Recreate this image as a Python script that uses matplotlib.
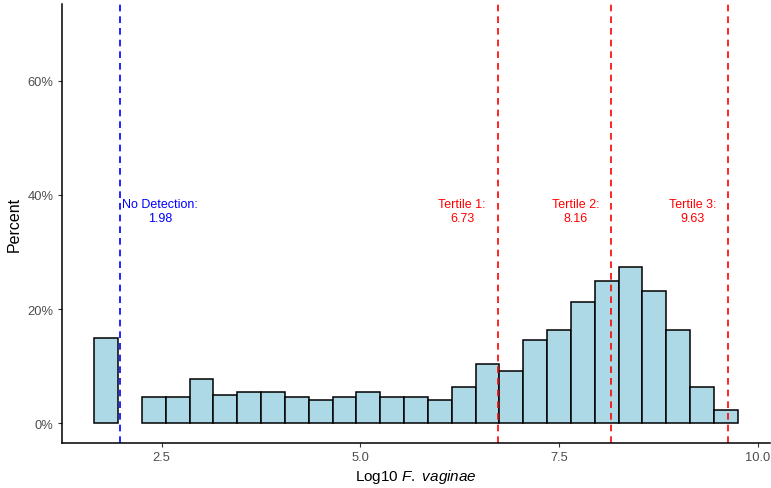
import numpy as np
import matplotlib
matplotlib.use("Agg")
import matplotlib.pyplot as plt
from matplotlib.ticker import FuncFormatter

plt.rcParams["font.family"] = ["Liberation Sans", "DejaVu Sans"]
plt.rcParams["mathtext.fontset"] = "custom"
plt.rcParams["mathtext.rm"] = "Liberation Sans"
plt.rcParams["mathtext.it"] = "Liberation Sans:italic"

# histogram bins (log10 F. vaginae), width 0.3
bin_start = 1.65
bin_width = 0.3
percent = [15.0, 0.0, 4.5, 4.5, 7.7, 5.0, 5.4, 5.4, 4.5, 4.0, 4.5, 5.4, 4.5,
           4.5, 4.0, 6.4, 10.4, 9.1, 14.5, 16.4, 21.3, 25.0, 27.3, 23.2,
           16.4, 6.4, 2.3]

no_detect = 1.98
tertiles = [6.73, 8.16, 9.63]
tertile_names = ["Tertile 1:", "Tertile 2:", "Tertile 3:"]

edges = bin_start + bin_width * np.arange(len(percent))
heights = np.array(percent) / 100
keep = heights > 0

fig = plt.figure(figsize=(7.71, 4.89), dpi=100)
ax = fig.add_axes([62 / 771, 45 / 489, 708 / 771, 439 / 489])

ax.bar(edges[keep], heights[keep], width=bin_width, align="edge",
       color="#ADD8E6", edgecolor="black", linewidth=1.1)

ax.axvline(no_detect, color="blue", linestyle=(0, (4, 3)), linewidth=1.2)
ax.text(no_detect + 0.5, 0.372, f"No Detection:\n{no_detect:.2f}", color="blue",
        ha="center", va="center", fontsize=9, linespacing=1.25)
for name, t in zip(tertile_names, tertiles):
    ax.axvline(t, color="red", linestyle=(0, (4, 3)), linewidth=1.2)
    ax.text(t - 0.45, 0.372, f"{name}\n{t:.2f}", color="red",
            ha="center", va="center", fontsize=9, linespacing=1.25)

ax.set_xlim(1.245, 10.155)
ax.set_ylim(-0.035, 0.735)
ax.set_xticks([2.5, 5.0, 7.5, 10.0])
ax.set_yticks([0, 0.2, 0.4, 0.6])
ax.yaxis.set_major_formatter(FuncFormatter(lambda v, p: f"{v * 100:.0f}%"))
ax.tick_params(labelsize=9.3, labelcolor="#4D4D4D", length=3, width=0.8,
               color="#333333", pad=3)

for side in ["top", "right"]:
    ax.spines[side].set_visible(False)
for side in ["left", "bottom"]:
    ax.spines[side].set_linewidth(1.1)

ax.set_xlabel(r"Log10 $\it{F.\ vaginae}$", fontsize=11, labelpad=3)
ax.set_ylabel("Percent", fontsize=11.5, labelpad=4)

fig.savefig("out.png", dpi=100)
